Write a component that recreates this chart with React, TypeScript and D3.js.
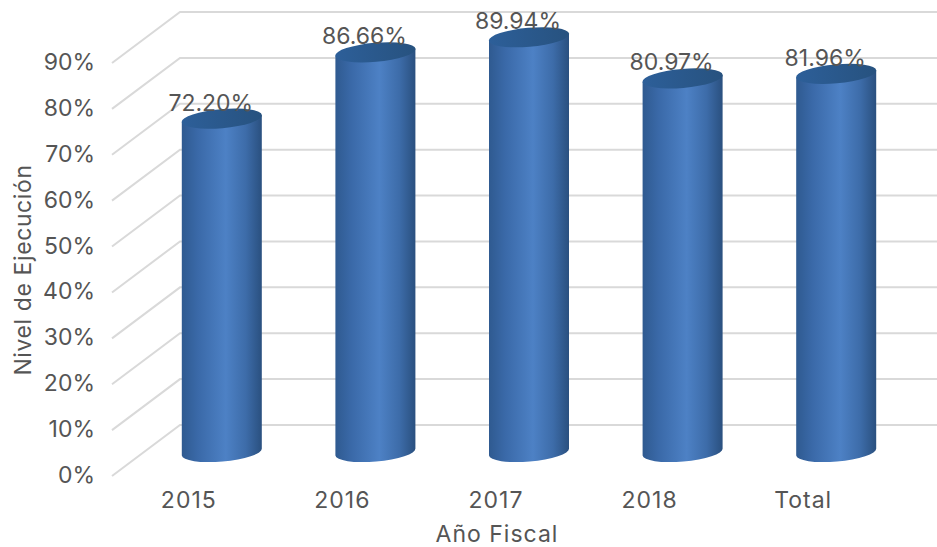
import React from "react";
import * as d3 from "d3";

const categories = ["2015", "2016", "2017", "2018", "Total"];
const values = [72.2, 86.66, 89.94, 80.97, 81.96];
const labels = ["72.20%", "86.66%", "89.94%", "80.97%", "81.96%"];
const ticks = [0, 10, 20, 30, 40, 50, 60, 70, 80, 90];

const W = 937, H = 547;
const y = d3.scaleLinear().domain([0, 90]).range([476, 63]);
const x = d3.scaleBand<string>().domain(categories).range([145, 913]);
const barW = 80;
const dx = 68, dy = -51;
const tilt = 3.5;
const depthOffset = -26;
const textColor = "#555555";
const font = 23;

export default function App() {
  return (
    <svg width={W} height={H} style={{ position: "absolute", left: 0, top: 0, background: "#fff", fontFamily: "Inter, 'DejaVu Sans', sans-serif" }}>
      <defs>
        <linearGradient id="cyl" x1="0" x2="1" y1="0" y2="0">
          <stop offset="0" stopColor="#2f5a90" />
          <stop offset="0.2" stopColor="#3a69a8" />
          <stop offset="0.55" stopColor="#4d81c5" />
          <stop offset="0.8" stopColor="#3d6ca9" />
          <stop offset="1" stopColor="#2a507f" />
        </linearGradient>
        <linearGradient id="top" x1="0" x2="1" y1="0" y2="0">
          <stop offset="0" stopColor="#2d5f99" />
          <stop offset="1" stopColor="#27527f" />
        </linearGradient>
      </defs>
      {ticks.map((t) => (
        <path key={t} d={`M${112},${y(t)}L${112 + dx},${y(t) + dy}L${W},${y(t) + dy}`} stroke="#d9d9d9" strokeWidth={2} fill="none" />
      ))}
      {ticks.map((t) => (
        <text key={t} x={95} y={y(t) + 7} textAnchor="end" fontSize={font} fill={textColor}>{t}%</text>
      ))}
      {categories.map((c, i) => {
        const cx = x(c)! + x.bandwidth() / 2;
        const l = cx - barW / 2, r = cx + barW / 2;
        const base = y(0) + depthOffset + 2;
        const top = y(values[i]) + depthOffset;
        return (
          <g key={c}>
            <path d={`M${l},${top + tilt}L${l},${base + tilt}A${barW / 2},9.5 -5 0 0 ${r},${base - tilt}L${r},${top - tilt}Z`} fill="url(#cyl)" />
            <ellipse cx={cx} cy={top} rx={barW / 2 + 0.3} ry={9.5} transform={`rotate(-5 ${cx} ${top})`} fill="url(#top)" />
            <text x={cx - 11} y={top - 8} textAnchor="middle" fontSize={font} fill={textColor}>{labels[i]}</text>
            <text x={cx - 33} y={508} textAnchor="middle" fontSize={font} letterSpacing={1} fill={textColor}>{c}</text>
          </g>
        );
      })}
      <text x={497} y={542} textAnchor="middle" fontSize={font} letterSpacing={1} fill={textColor}>Año Fiscal</text>
      <text transform="translate(31,270) rotate(-90)" textAnchor="middle" fontSize={font} letterSpacing={0.6} fill={textColor}>Nivel de Ejecución</text>
    </svg>
  );
}
